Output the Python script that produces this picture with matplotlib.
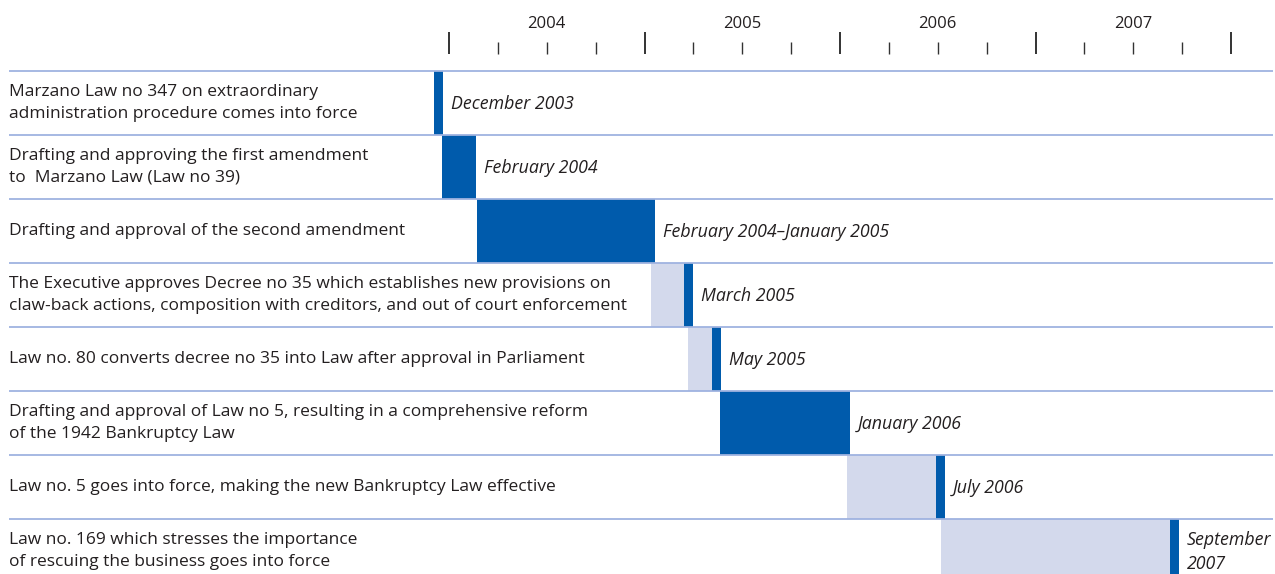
import numpy as np
import matplotlib.pyplot as plt
from matplotlib.transforms import blended_transform_factory

# events, top to bottom
events = [
    "Marzano Law no 347 on extraordinary\nadministration procedure comes into force",
    "Drafting and approving the first amendment\nto  Marzano Law (Law no 39)",
    "Drafting and approval of the second amendment",
    "The Executive approves Decree no 35 which establishes new provisions on\nclaw-back actions, composition with creditors, and out of court enforcement",
    "Law no. 80 converts decree no 35 into Law after approval in Parliament",
    "Drafting and approval of Law no 5, resulting in a comprehensive reform\nof the 1942 Bankruptcy Law",
    "Law no. 5 goes into force, making the new Bankruptcy Law effective",
    "Law no. 169 which stresses the importance\nof rescuing the business goes into force",
]
dates = ["December 2003", "February 2004", "February 2004\u2013January 2005", "March 2005",
         "May 2005", "January 2006", "July 2006", "September\n2007"]

# months counted from January 2004; None = no light (waiting) part
light_start = [None, None, None, 12.4, 14.7, None, 24.4, 30.2]
dark_start = [-0.92, -0.43, 1.72, 14.43, 16.14, 16.64, 29.9, 44.26]
dark_end = [-0.37, 1.66, 12.65, 14.98, 16.70, 24.6, 30.45, 44.81]

years = [2004, 2005, 2006, 2007]

W, H = 1275, 574
ppm = 195.5 / 12          # pixels per month
x0 = 449                  # pixel of Jan 2004
row_top = 71
row_h = 64

dark = "#005bac"
light = "#d3d9ec"
rule = "#9fb3e0"
txt = "#231f20"
fs = 12.5

plt.rcParams['font.family'] = ['Open Sans', 'DejaVu Sans']

fig = plt.figure(figsize=(W / 100, H / 100), dpi=100)
ax = fig.add_axes([0, 0, 1, 1])
ax.set_xlim(-x0 / ppm, (W - x0) / ppm)
ax.set_ylim(H, 0)
ax.axis('off')

tr = blended_transform_factory(ax.transAxes, ax.transData)

for i, ev in enumerate(events):
    top = row_top + i * row_h
    mid = top + row_h / 2
    if light_start[i] is not None:
        ax.barh(mid, dark_start[i] - light_start[i], left=light_start[i], height=row_h,
                color=light, linewidth=0, zorder=1)
    ax.barh(mid, dark_end[i] - dark_start[i], left=dark_start[i], height=row_h,
            color=dark, linewidth=0, zorder=2)
    ax.text(9 / W, mid, ev, transform=tr, ha='left', va='center', fontsize=fs,
            color=txt, linespacing=1.46)
    ax.text(dark_end[i] + 8 / ppm, mid + 1, dates[i], ha='left', va='center', fontsize=12.8,
            style='italic', color=txt, linespacing=1.42)

# row rules
ys = [row_top + i * row_h for i in range(len(events))]
ax.hlines(ys, -440 / ppm, (1273 - x0) / ppm, color=rule, linewidth=1.3, zorder=3)

# time axis on top
for k in range(0, 49, 3):
    long = k % 12 == 0
    ax.vlines(k, 32 if long else 42, 54, color="#333333", linewidth=1.4 if long else 1.0)
for j, yr in enumerate(years):
    ax.text(12 * j + 6, 24, str(yr), ha='center', va='center', fontsize=12, color=txt)

fig.savefig("out.png", dpi=100)
